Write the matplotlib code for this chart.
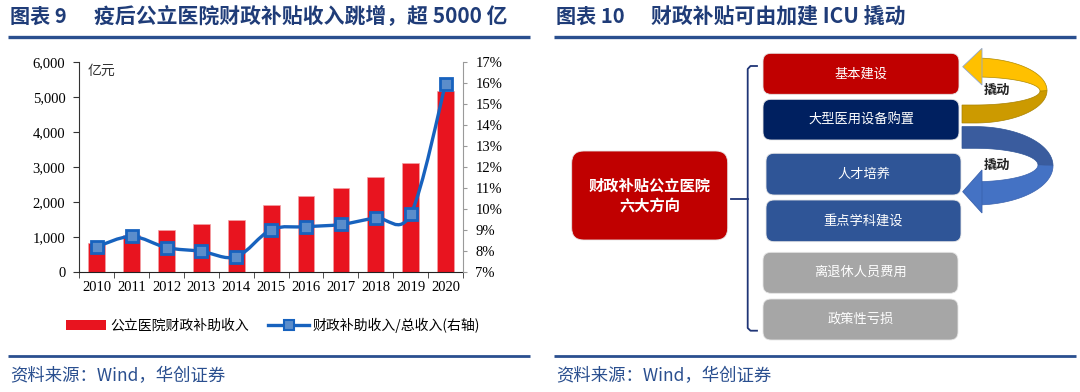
import numpy as np
import matplotlib
matplotlib.use("Agg")
import matplotlib.pyplot as plt
from matplotlib.patches import FancyBboxPatch, Polygon, Patch, PathPatch
from matplotlib.lines import Line2D
from matplotlib.path import Path
from matplotlib.ticker import FuncFormatter

CJK = ["Noto Sans CJK SC", "DejaVu Sans"]
SERIF = ["Liberation Serif", "DejaVu Serif"]
plt.rcParams["font.family"] = CJK

# ── data ─────────────────────────────────────────────
years = ["2010", "2011", "2012", "2013", "2014", "2015",
         "2016", "2017", "2018", "2019", "2020"]
subsidy = [810, 1060, 1200, 1350, 1490, 1905, 2170, 2400, 2715, 3095, 5165]   # 亿元
ratio = [8.19, 8.68, 8.15, 7.97, 7.71, 9.00, 9.14, 9.25, 9.56, 9.74, 15.95]  # %
left_ticks = [0, 1000, 2000, 3000, 4000, 5000, 6000]
right_ticks = [7, 8, 9, 10, 11, 12, 13, 14, 15, 16, 17]

title_left = ("图表 9", "疫后公立医院财政补贴收入跳增，超 5000 亿")
title_right = ("图表 10", "财政补贴可由加建 ICU 撬动")
source = "资料来源：Wind，华创证券"
legend_labels = ["公立医院财政补助收入", "财政补助收入/总收入(右轴)"]

center_label = "财政补贴公立医院\n六大方向"
directions = ["基本建设", "大型医用设备购置", "人才培养", "重点学科建设",
              "离退休人员费用", "政策性亏损"]
lever_label = "撬动"

NAVY = "#1F3C78"
RED = "#E8141F"
LINE = "#1762BE"

fig = plt.figure(figsize=(10.8, 3.92), dpi=100)

# full-figure overlay in pixel coordinates (y down)
ov = fig.add_axes([0, 0, 1, 1])
ov.set_xlim(0, 1080)
ov.set_ylim(392, 0)
ov.axis("off")

# ── headers / footers ────────────────────────────────
for x0, x1, (num, txt), tx in [(8, 530, title_left, 94), (554, 1076, title_right, 651)]:
    ov.text(x0 + 2, 16, num, fontsize=14.5, weight="bold", color=NAVY, va="center")
    ov.text(tx, 16, txt, fontsize=15, weight="bold", color=NAVY, va="center")
    ov.plot([x0, x1], [37, 37], color="#2A4F8F", lw=2.4, solid_capstyle="butt")
    ov.plot([x0, x1], [356, 356], color="#2A4F8F", lw=2.0, solid_capstyle="butt")
    ov.text(x0 + 2, 376, source, fontsize=12.5, color="#2A4F8F", va="center",
            style="italic")

# ── Fig 9: bars + ratio line ─────────────────────────
ax = fig.add_axes([79.3 / 1080, 1 - 271.7 / 392, (463 - 79.3) / 1080, 210 / 392])
ax.patch.set_alpha(0)
x = np.arange(len(years))
ax.bar(x, subsidy, width=0.48, color=RED, edgecolor="#F2A0A5", linewidth=0.5, zorder=2)
ax.set_xlim(-0.5, len(years) - 0.5)
ax.set_ylim(0, 6000)
ax.set_yticks(left_ticks)
ax.yaxis.set_major_formatter(FuncFormatter(lambda v, p: f"{int(v):,}"))
ax.set_xticks(x)
ax.set_xticklabels(years)
ax.set_xticks(np.arange(-0.5, len(years)), minor=True)
ax.tick_params(axis="x", which="major", length=0, pad=7)
ax.tick_params(axis="x", which="minor", length=4, color="#333333")
ax.tick_params(axis="y", length=4, pad=6, color="#333333")
for lab in ax.get_xticklabels() + ax.get_yticklabels():
    lab.set_family(SERIF)
    lab.set_fontsize(10.5)
ax.spines["top"].set_visible(False)
ax.spines["right"].set_visible(False)
ax.spines["left"].set_color("#333333")
ax.spines["bottom"].set_color("#222222")

ax2 = ax.twinx()
ax2.set_ylim(7, 17)
ax2.set_yticks(right_ticks)
ax2.set_yticklabels([f"{v}%" for v in right_ticks])
ax2.tick_params(axis="y", length=3, pad=6, color="#999999")
for lab in ax2.get_yticklabels():
    lab.set_family(SERIF)
    lab.set_fontsize(10.5)
for s in ["top", "left", "bottom"]:
    ax2.spines[s].set_visible(False)
ax2.spines["right"].set_color("#9A9A9A")

# smoothed line through the data points (Bezier, Excel-style)
pts = np.column_stack([x, ratio]).astype(float)
ext = np.vstack([pts[0], pts, pts[-1]])
verts = [tuple(pts[0])]
codes = [Path.MOVETO]
for i in range(len(pts) - 1):
    p0, p1, p2, p3 = ext[i], ext[i + 1], ext[i + 2], ext[i + 3]
    verts += [tuple(p1 + (p2 - p0) / 6), tuple(p2 - (p3 - p1) / 6), tuple(p2)]
    codes += [Path.CURVE4] * 3
ax2.add_patch(PathPatch(Path(verts, codes), fill=False, edgecolor=LINE, lw=2.4,
                        zorder=3))
ax2.plot(x, ratio, ls="none", marker="s", markersize=9, mfc="#5B8DCB",
         mec=LINE, mew=2, zorder=4)

ov.text(101.5, 70.5, "亿元", fontsize=10, color="#333333", va="center", ha="center")

handles = [Patch(facecolor=RED, edgecolor="none"),
           Line2D([], [], color=LINE, lw=2.4, marker="s", markersize=7,
                  mfc="#5B8DCB", mec=LINE, mew=1.5)]
fig.legend(handles, legend_labels, loc="center", bbox_to_anchor=(273 / 1080, 1 - 325 / 392),
           ncol=2, frameon=False, handlelength=2.9, columnspacing=1.4,
           handletextpad=0.3, prop={"family": CJK, "size": 10})

# ── Fig 10: diagram ──────────────────────────────────
def rbox(x0, y0, x1, y1, color, text, size, bold=False, r=8):
    ov.add_patch(FancyBboxPatch((x0, y0), x1 - x0, y1 - y0,
                                boxstyle=f"round,pad=0,rounding_size={r}",
                                facecolor=color, edgecolor="#E6E6E6", lw=0.6))
    ov.text((x0 + x1) / 2, (y0 + y1) / 2, text, ha="center", va="center",
            color="white", fontsize=size, weight="bold" if bold else "normal",
            linespacing=1.35)

rbox(571.7, 151, 727.7, 240, "#C00000", center_label, 11, bold=True, r=12)
box_geo = [(763, 53.3, 959, 94.3, "#C00000"),
           (763, 99.3, 959, 140, "#002060"),
           (766, 153.3, 961, 195, "#2F5597"),
           (766, 200, 961, 241.7, "#2F5597"),
           (763, 252.3, 958, 293.3, "#A6A6A6"),
           (763, 299, 958, 340, "#A6A6A6")]
for (x0, y0, x1, y1, c), lab in zip(box_geo, directions):
    rbox(x0, y0, x1, y1, c, lab, 9.5)

# bracket
ov.plot([757, 750.5, 747.7, 747.7, 750.5, 757], [66, 66, 69, 328, 330.7, 330.7],
        color="#1F3576", lw=1.3, solid_joinstyle="round")
ov.plot([730.7, 747.7], [199.3, 199.3], color="#1F3576", lw=1.3)


def ribbon(cx, cy_o, ry_o, rx_o, cy_i, ry_i, rx_i, t0, t1, tail_x=None, tail_at_end=True):
    th = np.linspace(np.radians(t0), np.radians(t1), 60)
    outer = np.column_stack([cx + rx_o * np.cos(th), cy_o - ry_o * np.sin(th)])
    inner = np.column_stack([cx + rx_i * np.cos(th), cy_i - ry_i * np.sin(th)])[::-1]
    if tail_x is not None:
        if tail_at_end:
            outer = np.vstack([outer, [tail_x, outer[-1, 1]]])
            inner = np.vstack([[tail_x, inner[0, 1]], inner])
        else:
            outer = np.vstack([[tail_x, outer[0, 1]], outer])
            inner = np.vstack([inner, [tail_x, inner[-1, 1]]])
    return np.vstack([outer, inner])


# yellow lever arrow (from equipment up to construction)
ov.add_patch(Polygon(ribbon(975, 90.5, 32.5, 72, 91, 14, 65, 0, -90, tail_x=962),
                     facecolor="#CC9A00", edgecolor="#A98200", lw=0.5))
ov.add_patch(Polygon(ribbon(975, 90.5, 32.5, 72, 91, 14, 65, 90, 0),
                     facecolor="#FFC000", edgecolor="#B08A00", lw=0.5))
ov.add_patch(Polygon([(962.7, 66.7), (982, 48.3), (982, 85)],
                     facecolor="#FFC000", edgecolor="#8FA6CF", lw=0.6))

# blue lever arrow (from equipment down to talent)
ov.add_patch(Polygon(ribbon(975, 165.8, 39.2, 78, 165, 16.7, 63, 90, 0, tail_x=962,
                            tail_at_end=False),
                     facecolor="#3A5C9E", edgecolor="#2F5597", lw=0.5))
ov.add_patch(Polygon(ribbon(975, 165.8, 39.2, 78, 165, 16.7, 63, 0, -90),
                     facecolor="#4472C4", edgecolor="#3A62AE", lw=0.5))
ov.add_patch(Polygon([(962.7, 191.7), (982, 170), (982, 213)],
                     facecolor="#4472C4", edgecolor="#3A62AE", lw=0.6))

for ty in (90, 165):
    ov.text(997, ty, lever_label, ha="center", va="center", fontsize=9.5,
            weight="bold", color="#222222")

fig.savefig("out.png", dpi=100)
